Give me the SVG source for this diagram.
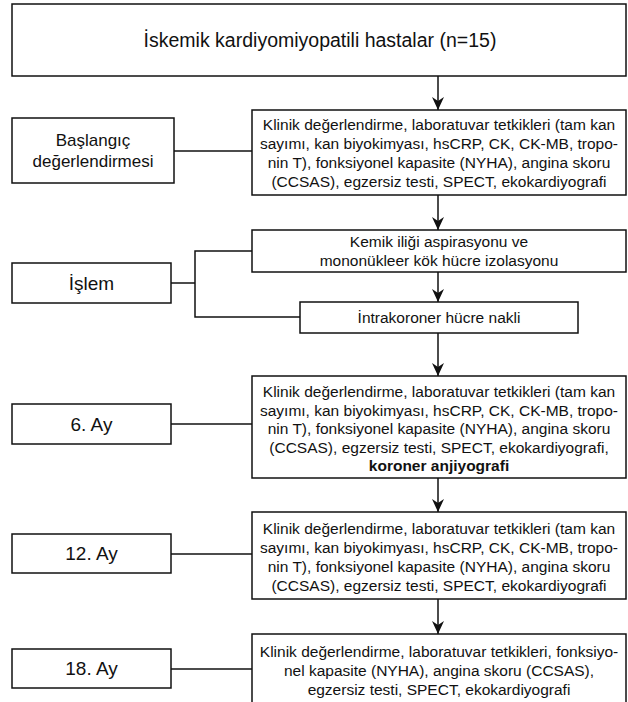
<svg xmlns="http://www.w3.org/2000/svg" width="628" height="702" viewBox="0 0 628 702">
<style>
.box{fill:#fff;stroke:#111;stroke-width:1.5}
.ln{fill:none;stroke:#111;stroke-width:1.5}
.t{font-family:"Liberation Sans",Arial,Helvetica,sans-serif;font-size:15.5px;text-anchor:middle;fill:#111}
.lbl{font-size:19px}
.lbl2{font-size:17px}
.title{font-size:19.5px}
.b{font-weight:bold}
</style>
<defs>
<marker id="arr" markerWidth="13" markerHeight="12" refX="13" refY="6" orient="auto" markerUnits="userSpaceOnUse">
<path d="M0,0 L13,6 L0,12 L4,6 z" fill="#111"/>
</marker>
</defs>
<g id="connectors">
<line class="ln" x1="438" y1="76" x2="438" y2="110" marker-end="url(#arr)"/>
<line class="ln" x1="438" y1="195" x2="438" y2="230" marker-end="url(#arr)"/>
<line class="ln" x1="438" y1="272" x2="438" y2="302" marker-end="url(#arr)"/>
<line class="ln" x1="438" y1="333" x2="438" y2="376" marker-end="url(#arr)"/>
<line class="ln" x1="438" y1="478" x2="438" y2="512" marker-end="url(#arr)"/>
<line class="ln" x1="438" y1="599" x2="438" y2="634" marker-end="url(#arr)"/>
<line class="ln" x1="174" y1="151" x2="252" y2="151"/>
<line class="ln" x1="171" y1="283" x2="195" y2="283"/>
<path class="ln" d="M252,251 H195 V317 H300"/>
<line class="ln" x1="171" y1="424" x2="252" y2="424"/>
<line class="ln" x1="171" y1="554" x2="252" y2="554"/>
<line class="ln" x1="171" y1="669" x2="252" y2="669"/>
</g>
<g id="n-top">
<rect class="box" x="12" y="4" width="614" height="72"/>
<text class="t title" x="320" y="46.8">İskemik kardiyomiyopatili hastalar (n=15)</text>
</g>
<g id="n-baslangic-label">
<rect class="box" x="12" y="118" width="162" height="65"/>
<text class="t lbl2" x="93" y="146">Başlangıç</text>
<text class="t lbl2" x="93" y="167">değerlendirmesi</text>
</g>
<g id="n-baslangic">
<rect class="box" x="252" y="110" width="374" height="85"/>
<text class="t" x="439" y="130">Klinik değerlendirme, laboratuvar tetkikleri (tam kan</text>
<text class="t" x="439" y="149">sayımı, kan biyokimyası, hsCRP, CK, CK-MB, tropo-</text>
<text class="t" x="439" y="168">nin T), fonksiyonel kapasite (NYHA), angina skoru</text>
<text class="t" x="439" y="187">(CCSAS), egzersiz testi, SPECT, ekokardiyografi</text>
</g>
<g id="n-kemik">
<rect class="box" x="252" y="230" width="374" height="42"/>
<text class="t" x="439" y="247">Kemik iliği aspirasyonu ve</text>
<text class="t" x="439" y="266">mononükleer kök hücre izolasyonu</text>
</g>
<g id="n-islem-label">
<rect class="box" x="12" y="263" width="159" height="40"/>
<text class="t lbl" x="91.5" y="289.6">İşlem</text>
</g>
<g id="n-intrakoroner">
<rect class="box" x="300" y="302" width="278" height="31"/>
<text class="t" x="439" y="323">İntrakoroner hücre nakli</text>
</g>
<g id="n-6ay-label">
<rect class="box" x="12" y="404" width="159" height="40"/>
<text class="t lbl" x="91.5" y="430.6">6. Ay</text>
</g>
<g id="n-6ay">
<rect class="box" x="252" y="376" width="374" height="102"/>
<text class="t" x="439" y="397">Klinik değerlendirme, laboratuvar tetkikleri (tam kan</text>
<text class="t" x="439" y="415.5">sayımı, kan biyokimyası, hsCRP, CK, CK-MB, tropo-</text>
<text class="t" x="439" y="434">nin T), fonksiyonel kapasite (NYHA), angina skoru</text>
<text class="t" x="439" y="452.5">(CCSAS), egzersiz testi, SPECT, ekokardiyografi,</text>
<text class="t b" x="439" y="471">koroner anjiyografi</text>
</g>
<g id="n-12ay-label">
<rect class="box" x="12" y="534" width="159" height="39"/>
<text class="t lbl" x="91.5" y="560.3">12. Ay</text>
</g>
<g id="n-12ay">
<rect class="box" x="252" y="512" width="374" height="87"/>
<text class="t" x="439" y="533.5">Klinik değerlendirme, laboratuvar tetkikleri (tam kan</text>
<text class="t" x="439" y="552.5">sayımı, kan biyokimyası, hsCRP, CK, CK-MB, tropo-</text>
<text class="t" x="439" y="571.5">nin T), fonksiyonel kapasite (NYHA), angina skoru</text>
<text class="t" x="439" y="590.5">(CCSAS), egzersiz testi, SPECT, ekokardiyografi</text>
</g>
<g id="n-18ay-label">
<rect class="box" x="12" y="649" width="159" height="39"/>
<text class="t lbl" x="91.5" y="675.3">18. Ay</text>
</g>
<g id="n-18ay">
<rect class="box" x="252" y="634" width="374" height="80"/>
<text class="t" x="439" y="656.5">Klinik değerlendirme, laboratuvar tetkikleri, fonksiyo-</text>
<text class="t" x="439" y="675.5">nel kapasite (NYHA), angina skoru (CCSAS),</text>
<text class="t" x="439" y="694.5">egzersiz testi, SPECT, ekokardiyografi</text>
</g>
</svg>
